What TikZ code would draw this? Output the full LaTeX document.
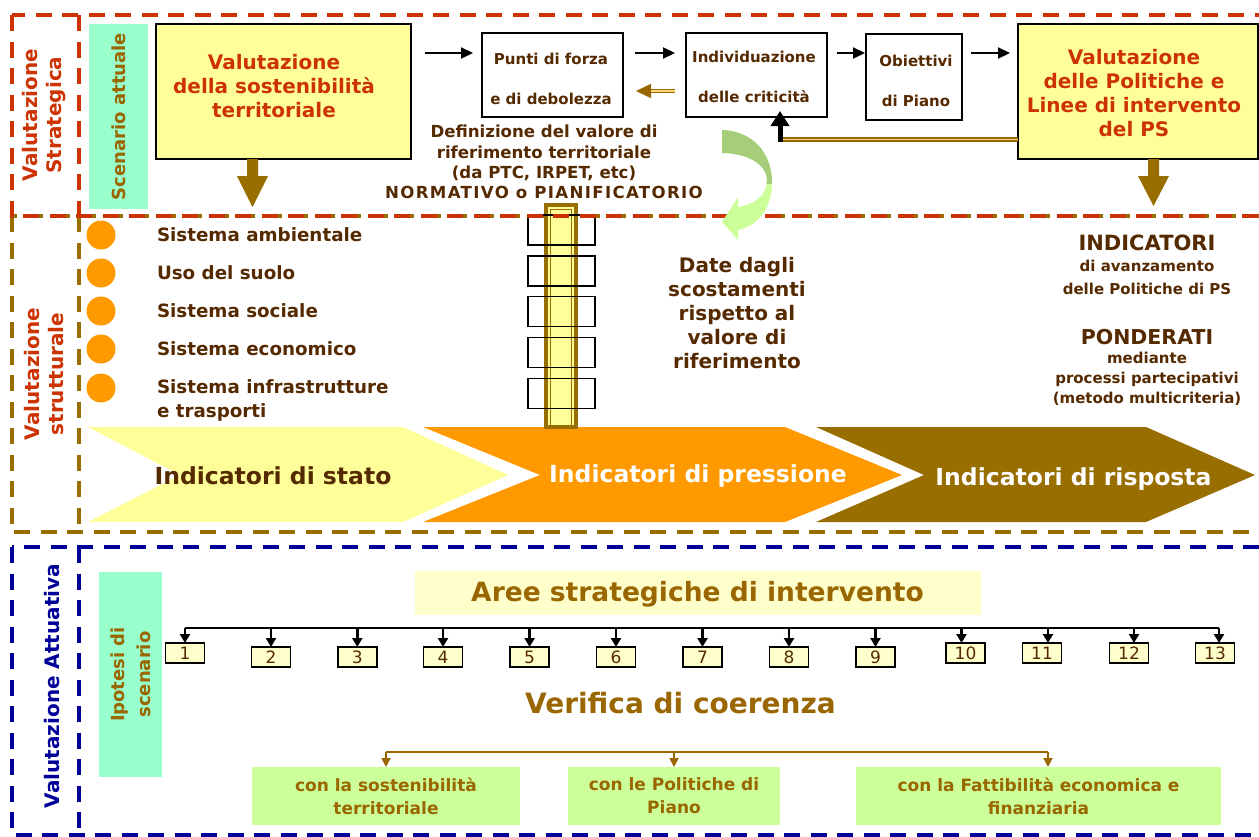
\documentclass[tikz,border=0pt]{standalone}
\usepackage{fontspec}
\setmainfont{DejaVu Sans}
\usetikzlibrary{arrows.meta}

\definecolor{redf}{RGB}{204,51,0}
\definecolor{brownf}{RGB}{153,110,0}
\definecolor{olivetxt}{RGB}{153,102,0}
\definecolor{darktxt}{RGB}{85,42,0}
\definecolor{paleyel}{RGB}{255,255,153}
\definecolor{cream}{RGB}{255,255,204}
\definecolor{aquaf}{RGB}{153,255,204}
\definecolor{orangef}{RGB}{255,153,0}
\definecolor{navyf}{RGB}{0,0,153}
\definecolor{lgreen}{RGB}{204,255,153}
\definecolor{mgreen}{RGB}{166,206,122}
\definecolor{dblfill}{RGB}{255,220,120}

\newcommand\setfs[2]{\fontsize{#1}{#2}\selectfont}

\tikzset{
  frame/.style={line width=4.5pt, dash pattern=on 16pt off 10.5pt},
  ybox/.style={draw=black, line width=1.6pt, fill=paleyel},
  wbox/.style={draw=black, line width=1.6pt, fill=white},
  boxtxt/.style={align=center, text=darktxt, font=\bfseries\setfs{15}{40}},
  redtitle/.style={text=redf, font=\bfseries\setfs{20}{24}, align=center},
  sidetitle/.style={rotate=90, font=\bfseries\setfs{20}{24}, align=center},
  arr/.style={line width=2.2pt, -{Triangle[length=12pt,width=11pt]}},
  dbl/.style={draw=olivetxt, line width=1.5pt, double=dblfill, double distance=1.8pt},
  bigarr/.style={line width=5pt, -{Triangle[length=15pt,width=18pt]}},
  listtxt/.style={anchor=west, text=darktxt, font=\bfseries\setfs{18.3}{24}, align=left},
  numbox/.style={draw=black, line width=1.8pt, fill=cream, minimum width=39pt, minimum height=20pt, text=darktxt, font=\setfs{17}{17}},
  narr/.style={line width=2.4pt, -{Triangle[length=9pt,width=10pt]}},
  barr/.style={draw=olivetxt, line width=1.8pt, -{Triangle[length=9pt,width=9pt]}},
  gbox/.style={fill=lgreen, minimum height=58pt, text=olivetxt, font=\bfseries\setfs{17}{23}, align=center},
  smallrect/.style={draw=black, line width=1.6pt, minimum width=67pt, minimum height=30pt},
  dot/.style={circle, fill=orangef, minimum size=29pt},
  chevtxt/.style={font=\bfseries\setfs{23.5}{28}},
  sidetxt/.style={text=darktxt, align=center},
}

\begin{document}
\begin{tikzpicture}[x=1pt, y=-1pt, every node/.style={inner sep=0pt, outer sep=0pt}]
\useasboundingbox (0,0) rectangle (1259,836);
\fill[white] (0,0) rectangle (1259,836);

% ---------- dashed frames of the lower bands ----------
\begin{scope}
  \clip (0,0) rectangle (1259,836);
  \draw[frame, draw=brownf] (12,216) rectangle (1275,532);
  \draw[frame, draw=brownf] (79,216) -- (79,532);
  \draw[frame, draw=navyf] (12,547) rectangle (1275,835);
  \draw[frame, draw=navyf] (79,547) -- (79,835);
\end{scope}

% ---------- strategic band: boxes ----------
\node[fill=aquaf, rotate=90, minimum width=185pt, minimum height=59pt,
      text=olivetxt, font=\bfseries\setfs{18}{22}] (scen) at (118.5,116.5) {Scenario attuale};
\node[ybox, minimum width=255pt, minimum height=135pt] (b1) at (283.5,91.5) {};
\node[wbox, minimum width=141pt, minimum height=84pt] (punti) at (552.5,75) {};
\node[wbox, minimum width=141pt, minimum height=84pt] (ind) at (756.5,75) {};
\node[wbox, minimum width=96pt, minimum height=86pt] (obi) at (914,77) {};
\node[ybox, minimum width=240pt, minimum height=135pt] (b2) at (1138,91.5) {};

% ---------- chevrons ----------
\fill[paleyel] (88,427) -- (403,427) -- (508,475) -- (403,522) -- (88,522) -- (180,475) -- cycle;
\fill[orangef] (423,427) -- (785,427) -- (902,475) -- (785,522) -- (423,522) -- (540,475) -- cycle;
\fill[brownf] (816,427) -- (1146,427) -- (1255,475) -- (1146,522) -- (816,522) -- (924,475) -- cycle;

% ---------- reference bar with the five indicator slots ----------
\draw[brownf, line width=3.5pt, fill=paleyel] (546,205) rectangle (576,427);
\draw[brownf, line width=1pt] (550.5,209.5) rectangle (571.5,427);
\foreach \k/\yy in {1/230, 2/271, 3/311.5, 4/352.5, 5/393.5}
  \node[smallrect] (slot\k) at (561.5,\yy) {};

% ---------- strategic frame on top ----------
\begin{scope}
  \clip (0,0) rectangle (1259,836);
  \draw[frame, draw=redf] (12,15) rectangle (1275,216);
  \draw[frame, draw=redf] (79,15) -- (79,216);
\end{scope}

% ---------- curved green arrow ----------
\fill[lgreen] (722,130) .. controls (752,131) and (772,152) .. (772,183)
   .. controls (772,208) and (758,226) .. (738,230) -- (738,240) -- (722,222) -- (738,197)
   -- (738,207) .. controls (756,204) and (767,195) .. (767,180)
   .. controls (767,165) and (748,153) .. (722,153) -- cycle;
\begin{scope}
  \clip (700,100) rectangle (800,183);
  \fill[mgreen] (722,130) .. controls (752,131) and (772,152) .. (772,183)
     .. controls (772,208) and (758,226) .. (738,230) -- (738,240) -- (722,222) -- (738,197)
     -- (738,207) .. controls (756,204) and (767,195) .. (767,180)
     .. controls (767,165) and (748,153) .. (722,153) -- cycle;
\end{scope}

% ---------- side titles ----------
\node[sidetitle, text=redf] (vstrat) at (44,115) {Valutazione\\Strategica};
\node[sidetitle, text=redf] (vstrut) at (44.5,374) {Valutazione\\strutturale};
\node[sidetitle, text=navyf] (vatt) at (52,686) {Valutazione Attuativa};

% ---------- texts of the strategic band ----------
\node[redtitle] (t1) at (274,86) {Valutazione\\della sostenibilità\\territoriale};
\node[redtitle] (t2) at (1134,93) {Valutazione\\delle Politiche e\\Linee di intervento\\del PS};
\node[boxtxt] (tp) at (551,79) {Punti di forza\\e di debolezza};
\node[boxtxt] (ti) at (754,77) {Individuazione\\delle criticità};
\node[boxtxt] (to) at (916,81) {Obiettivi\\di Piano};
\node[sidetxt, font=\bfseries\setfs{16.6}{20.3}] (tdef) at (544,162)
  {Definizione del valore di\\riferimento territoriale\\(da PTC, IRPET, etc)\\{\addfontfeature{LetterSpace=8}NORMATIVO o PIANIFICATORIO}};

% ---------- connectors of the strategic band ----------
\coordinate (ya) at (0,53);
\coordinate (yr) at (0,91);
\coordinate (yb) at (0,139.5);
\coordinate (xk) at (780,0);
\draw[arr, shorten <=14pt, shorten >=9pt] (b1.east |- ya) -- (punti.west |- ya);
\draw[arr, shorten <=12pt, shorten >=11pt] (punti.east |- ya) -- (ind.west |- ya);
\draw[arr, shorten <=10pt, shorten >=1pt] (ind.east |- ya) -- (obi.west |- ya);
\draw[arr, shorten <=9pt, shorten >=8pt] (obi.east |- ya) -- (b2.west |- ya);
\draw[dbl, -{Triangle[length=15pt,width=14pt]}, shorten <=11pt, shorten >=13pt] (ind.west |- yr) -- (punti.east |- yr);
\draw[dbl] (b2.west |- yb) -- (xk |- yb);
\draw[bigarr, shorten >=-6pt] ([yshift=-2pt]xk |- yb) -- (xk |- ind.south);

% block arrows down into the structural band
\fill[brownf] (247,159) -- (258,159) -- (258,176) -- (268,176) -- (252.5,207) -- (237,176) -- (247,176) -- cycle;
\fill[brownf] (1148,159) -- (1159,159) -- (1159,176) -- (1169,176) -- (1153.5,206) -- (1138,176) -- (1148,176) -- cycle;

% ---------- structural band ----------
\foreach \k/\yy in {1/235, 2/273, 3/311, 4/349, 5/388}
  \node[dot] (c\k) at (101,\yy) {};
\node[listtxt] (s1) at (157,235) {Sistema ambientale};
\node[listtxt] (s2) at (157,273) {Uso del suolo};
\node[listtxt] (s3) at (157,311) {Sistema sociale};
\node[listtxt] (s4) at (157,349) {Sistema economico};
\node[listtxt] (s5) at (157,400) {Sistema infrastrutture\\e trasporti};

\node[sidetxt, font=\bfseries\setfs{20}{24.2}] (tdate) at (737,313)
  {Date dagli\\scostamenti\\rispetto al\\valore di\\riferimento};

\node[sidetxt, font=\bfseries\setfs{21}{24}] (ind1) at (1147,243) {INDICATORI};
\node[sidetxt, font=\bfseries\setfs{15}{20}] (ind2) at (1147,266) {di avanzamento};
\node[sidetxt, font=\bfseries\setfs{15}{20}] (ind3) at (1147,289) {delle Politiche di PS};
\node[sidetxt, font=\bfseries\setfs{20.5}{24}] (pon1) at (1147,337) {PONDERATI};
\node[sidetxt, font=\bfseries\setfs{15}{20}] (pon2) at (1147,379) {mediante\\processi partecipativi\\(metodo multicriteria)};

\node[chevtxt, text=darktxt] (cs) at (273,476) {Indicatori di stato};
\node[chevtxt, text=white] (cp) at (698,476) {Indicatori di pressione};
\node[chevtxt, text=white] (cr) at (1073.5,479) {Indicatori di risposta};

% ---------- implementation band ----------
\node[fill=aquaf, rotate=90, minimum width=205pt, minimum height=63pt, align=center,
      text=olivetxt, font=\bfseries\setfs{18}{26}] (ipo) at (130.5,674.5) {Ipotesi di\\scenario};
\node[fill=cream, minimum width=566pt, minimum height=44pt] (aree) at (698,593) {};
\node[text=olivetxt, font=\bfseries\setfs{26.5}{30}] (areet) at (697.5,594) {Aree strategiche di intervento};

\foreach \i/\cx/\cy/\ax in {1/185/653/185, 2/271/657/271, 3/357.3/657/357.3, 4/443/657/443,
    5/529.6/657/529.6, 6/616/657/616, 7/702.5/657/702.5, 8/789/657/789, 9/875.5/657/875.5,
    10/965.5/653/961.5, 11/1042/653/1048, 12/1129/653/1134, 13/1215/653/1219}
{
  \node[numbox] (n\i) at (\cx,\cy) {\i};
  \coordinate (ax\i) at (\ax,628);
}
\draw[line width=2.4pt] (ax1) -- (ax13);
\foreach \i in {1,...,13}
  \draw[narr] (ax\i) -- (n\i.north -| ax\i);

\node[text=olivetxt, font=\bfseries\setfs{28}{32}] (verif) at (680.5,703) {Verifica di coerenza};

\node[gbox, minimum width=268pt] (gA) at (386,796) {con la sostenibilità\\territoriale};
\node[gbox, minimum width=212pt] (gB) at (674,796) {con le Politiche di\\Piano};
\node[gbox, minimum width=365pt] (gC) at (1038.5,796) {con la Fattibilità economica e\\finanziaria};

\coordinate (brA) at (386,752);
\coordinate (brB) at (674,752);
\coordinate (brC) at (1048,752);
\draw[olivetxt, line width=1.8pt] (brA) -- (brC);
\draw[barr] (brA) -- (brA |- gA.north);
\draw[barr] (brB) -- (brB |- gB.north);
\draw[barr] (brC) -- (brC |- gC.north);
\end{tikzpicture}
\end{document}
